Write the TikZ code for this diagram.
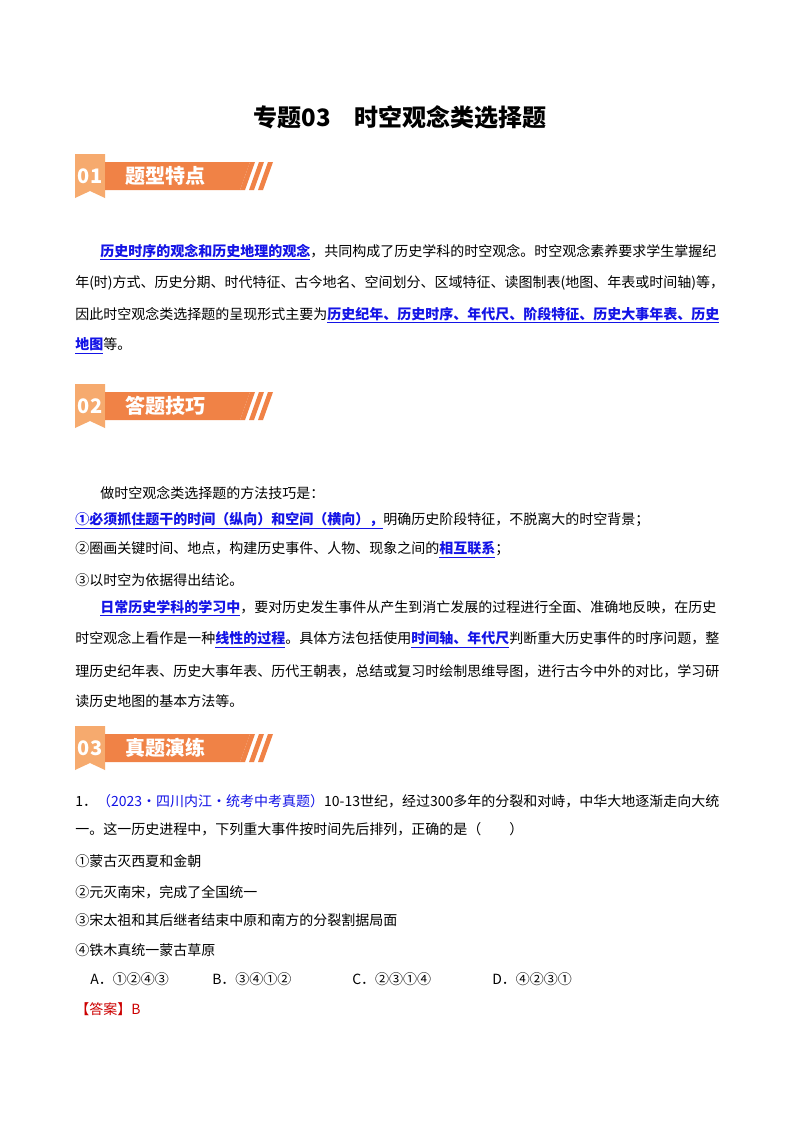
\documentclass[tikz,border=0pt]{standalone}
\usepackage{fontspec}
\setmainfont{Noto Sans CJK SC}
\usetikzlibrary{positioning}
\definecolor{bandorange}{RGB}{240,130,70}
\definecolor{flagorange}{RGB}{246,170,110}
\definecolor{linkblue}{RGB}{20,20,230}
\newcommand{\keyword}[1]{{\color{linkblue}\bfseries$\underline{\hbox{#1}}$}}
\tikzset{
  line/.style={anchor=west,inner sep=0pt,font=\fontsize{10.5pt}{12pt}\selectfont},
  bandtext/.style={text=white,font=\bfseries\fontsize{15pt}{16pt}\selectfont,inner sep=0pt},
}
\newcommand{\banner}[3]{%
  \fill[flagorange] (75,#1-22) -- (105,#1-22) -- (105,#1+22) -- (90,#1+15) -- (75,#1+22) -- cycle;
  \fill[bandorange] (105,#1-14) -- (250,#1-14) -- (240,#1+14) -- (105,#1+14) -- cycle;
  \foreach \s in {0,9,18} \fill[bandorange] (250+\s,#1-14) -- (255+\s,#1-14) -- (245+\s,#1+14) -- (240+\s,#1+14) -- cycle;
  \node[bandtext] (#3n) at (90,#1) {#2};
}
\begin{document}
\begin{tikzpicture}[x=0.75pt,y=-0.75pt]
\useasboundingbox[fill=white] (0,0) rectangle (800,1132);
\node[font=\bfseries\fontsize{18pt}{20pt}\selectfont] (title) at (400,117) {专题03\quad 时空观念类选择题};
% 01
\banner{176}{01}{one}
\node[bandtext,anchor=west] (onet) at (125,176) {题型特点};
\node[line] (p1) at (100,252) {\keyword{历史时序的观念和历史地理的观念}，共同构成了历史学科的时空观念。时空观念素养要求学生掌握纪};
\node[line] (p2) at (75,283) {年(时)方式、历史分期、时代特征、古今地名、空间划分、区域特征、读图制表(地图、年表或时间轴)等，};
\node[line] (p3) at (75,315) {因此时空观念类选择题的呈现形式主要为\keyword{历史纪年、历史时序、年代尺、阶段特征、历史大事年表、历史}};
\node[line] (p4) at (75,346) {\keyword{地图}等。};
% 02
\banner{406}{02}{two}
\node[bandtext,anchor=west] (twot) at (125,406) {答题技巧};
\node[line] (q1) at (100,493) {做时空观念类选择题的方法技巧是：};
\node[line] (q2) at (75,521) {\keyword{①必须抓住题干的时间（纵向）和空间（横向），}明确历史阶段特征，不脱离大的时空背景；};
\node[line] (q3) at (75,550) {②圈画关键时间、地点，构建历史事件、人物、现象之间的\keyword{相互联系}；};
\node[line] (q4) at (75,580) {③以时空为依据得出结论。};
\node[line] (q5) at (100,608) {\keyword{日常历史学科的学习中}，要对历史发生事件从产生到消亡发展的过程进行全面、准确地反映，在历史};
\node[line] (q6) at (75,640) {时空观念上看作是一种\keyword{线性的过程}。具体方法包括使用\keyword{时间轴、年代尺}判断重大历史事件的时序问题，整};
\node[line] (q7) at (75,671) {理历史纪年表、历史大事年表、历代王朝表，总结或复习时绘制思维导图，进行古今中外的对比，学习研};
\node[line] (q8) at (75,701) {读历史地图的基本方法等。};
% 03
\banner{748}{03}{three}
\node[bandtext,anchor=west] (threet) at (125,748) {真题演练};
\node[line] (r1) at (75,801) {1．{\color{linkblue}（2023·四川内江·统考中考真题）}10-13世纪，经过300多年的分裂和对峙，中华大地逐渐走向大统};
\node[line] (r2) at (75,829) {一。这一历史进程中，下列重大事件按时间先后排列，正确的是（\qquad）};
\node[line] (r3) at (75,861) {①蒙古灭西夏和金朝};
\node[line] (r4) at (75,892) {②元灭南宋，完成了全国统一};
\node[line] (r5) at (75,920) {③宋太祖和其后继者结束中原和南方的分裂割据局面};
\node[line] (r6) at (75,950) {④铁木真统一蒙古草原};
\node[line] (ra) at (90,979) {A．①②④③};
\node[line] (rb) at (212,979) {B．③④①②};
\node[line] (rc) at (352,979) {C．②③①④};
\node[line] (rd) at (492,979) {D．④②③①};
\node[line] (ans) at (75,1009) {{\color{red!80!black}【答案】B}};
\end{tikzpicture}
\end{document}
